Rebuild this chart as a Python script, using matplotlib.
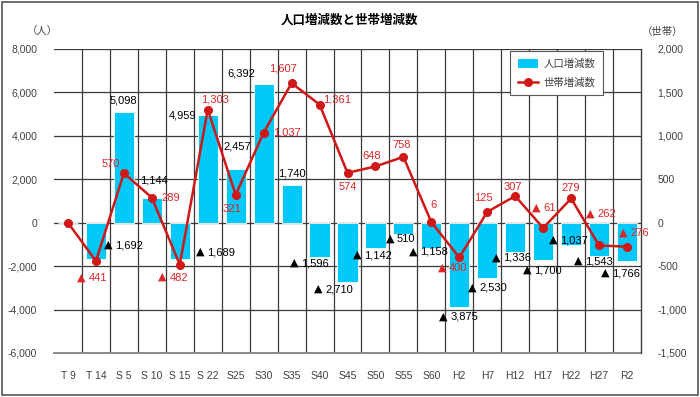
import matplotlib
matplotlib.use("Agg")
import matplotlib.pyplot as plt
from matplotlib.patches import Rectangle
from matplotlib.lines import Line2D
from matplotlib.patches import Patch

# ---- data ----
categories = ["T 9", "T 14", "S 5", "S 10", "S 15", "S 22", "S25", "S30", "S35", "S40",
              "S45", "S50", "S55", "S60", "H2", "H7", "H12", "H17", "H22", "H27", "R2"]
population_change = [0, -1692, 5098, 1144, -1689, 4959, 2457, 6392, 1740, -1596,
                     -2710, -1142, -510, -1158, -3875, -2530, -1336, -1700, -1037, -1543, -1766]
household_change = [0, -441, 570, 289, -482, 1303, 321, 1037, 1607, 1361,
                     574, 648, 758, 6, -400, 125, 307, -61, 279, -262, -276]
left_ticks = [-6000, -4000, -2000, 0, 2000, 4000, 6000, 8000]
right_ticks = [-1500, -1000, -500, 0, 500, 1000, 1500, 2000]

# label offsets in pixels (dx, dy up)
pop_offsets = [None, (28, 14), (0, 12), (2, 17), (36, 7), (-25, 0), (2, 23), (-22, 10),
               (0, 11), (-9, -6), (-13, -8), (-2, -8), (-3, -5), (-2, -4), (0, -10),
               (1, -10), (-3, -6), (0, -11), (-2, 5), (-5, -5), (-6, -12)]
hh_offsets = [None, (-4, -17), (-13, 9), (19, 0), (-7, -13), (7, 10), (-4, -14), (23, 0),
              (-9, 15), (18, 5), (0, -14), (-4, 10), (-2, 12), (2, 17), (-7, -11),
              (-4, 14), (-2, 9), (1, 20), (0, 10), (2, 31), (7, 14)]

NUM_FONT = ["Liberation Sans", "DejaVu Sans"]
JP_FONT = ["Noto Sans CJK JP", "DejaVu Sans"]
plt.rcParams["font.family"] = NUM_FONT

BAR_COLOR = "#00C8F8"
LINE_COLOR = "#D01818"
LABEL_RED = "#DD2626"
GRID = "#3a3a3a"
TICK_COLOR = "#404040"

fig = plt.figure(figsize=(7.0, 3.97), dpi=100)
ax = fig.add_axes([54 / 700, 44 / 397, 587 / 700, 304 / 397])
ax2 = ax.twinx()

x = list(range(len(categories)))

ax.bar(x, population_change, width=0.72, color=BAR_COLOR, edgecolor="white",
       linewidth=0.6, zorder=3)
ax.set_xlim(-0.5, len(categories) - 0.5)
ax.set_ylim(left_ticks[0], left_ticks[-1])
ax.set_yticks(left_ticks)
ax.set_yticklabels([f"{t:,}" for t in left_ticks])
ax.set_xticks(x)
ax.set_xticklabels(categories)
ax.set_xticks([i + 0.5 for i in x[:-1]], minor=True)
ax.grid(axis="y", which="major", color=GRID, linewidth=0.9, zorder=0)
ax.grid(axis="x", which="minor", color=GRID, linewidth=0.9, zorder=0)
ax.set_axisbelow(True)
ax.tick_params(axis="both", which="both", length=0, colors=TICK_COLOR, labelsize=7.5)
ax.tick_params(axis="y", pad=12)
ax.tick_params(axis="x", pad=13)
for s in ["top", "left"]:
    ax.spines[s].set_visible(False)
ax.spines["bottom"].set_color("#8a8a8a")
ax.spines["bottom"].set_linewidth(1.4)

ax2.plot(x, household_change, color=LINE_COLOR, linewidth=1.8, marker="o",
         markersize=5.5, zorder=5)
ax2.set_ylim(right_ticks[0], right_ticks[-1])
ax2.set_yticks(right_ticks)
ax2.set_yticklabels([f"{t:,}" for t in right_ticks])
ax2.tick_params(axis="y", length=0, colors=TICK_COLOR, labelsize=7.5, pad=12)
for s in ["top", "left", "bottom"]:
    ax2.spines[s].set_visible(False)
ax2.spines["right"].set_color(GRID)
ax2.spines["right"].set_linewidth(0.9)


def put_label(axis, v, i, off, color):
    dx, dy = off
    if v >= 0:
        axis.annotate(f"{v:,}", xy=(i, v), xytext=(dx, dy), textcoords="offset pixels",
                      ha="center", va="center", fontsize=8, color=color, zorder=6)
    else:
        num = f"{abs(v):,}"
        width = 8 + 4 + 5.6 * len(num)
        left = dx - width / 2
        axis.annotate("▲", xy=(i, v), xytext=(left + 4, dy + 0.5), textcoords="offset pixels",
                      ha="center", va="center", fontsize=8, color=color, zorder=6,
                      family=["DejaVu Sans"])
        axis.annotate(num, xy=(i, v), xytext=(left + 11, dy), textcoords="offset pixels",
                      ha="left", va="center", fontsize=8, color=color, zorder=6)


for i, v in enumerate(population_change):
    if pop_offsets[i] is not None:
        put_label(ax, v, i, pop_offsets[i], "black")

for i, v in enumerate(household_change):
    if hh_offsets[i] is not None:
        put_label(ax2, v, i, hh_offsets[i], LABEL_RED)

fig.text(349 / 700, 1 - 20 / 397, "人口増減数と世帯増減数", ha="center", va="center",
         fontsize=9, fontweight="bold", family=JP_FONT)
fig.text(42 / 700, 1 - 32 / 397, "（人）", ha="center", va="center",
         fontsize=7.5, color=TICK_COLOR, family=JP_FONT)
fig.text(663 / 700, 1 - 32 / 397, "（世帯）", ha="center", va="center",
         fontsize=7.5, color=TICK_COLOR, family=JP_FONT)

handles = [Patch(facecolor=BAR_COLOR, edgecolor="none"),
           Line2D([0], [0], color=LINE_COLOR, linewidth=1.8, marker="o", markersize=5.5)]
leg = ax2.legend(handles, ["人口増減数", "世帯増減数"], loc="center",
                 bbox_to_anchor=(0.856, 0.921), prop={"family": JP_FONT, "size": 7.5},
                 frameon=True, fancybox=False, framealpha=1, edgecolor="#555555",
                 handlelength=2.0, handleheight=0.9, labelspacing=0.8,
                 borderpad=0.7, handletextpad=0.5)
leg.get_frame().set_linewidth(0.8)
for t in leg.get_texts():
    t.set_color(TICK_COLOR)

fig.patches.append(Rectangle((2 / 700, 2 / 397), 696 / 700, 393 / 397,
                             transform=fig.transFigure, fill=False,
                             edgecolor="#555555", linewidth=1.2))

fig.savefig("out.png", dpi=100)
